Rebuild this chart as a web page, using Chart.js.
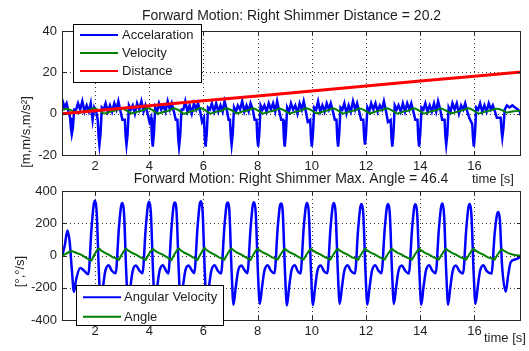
<!DOCTYPE html>
<html><head><meta charset="utf-8">
<script src="https://cdn.jsdelivr.net/npm/chart.js@4/dist/chart.umd.min.js"></script>
<style>
html,body{margin:0;padding:0;background:#fff;}
#wrap{position:relative;width:529px;height:351px;overflow:hidden;background:#fff;}
canvas{position:absolute;left:0;}
#c1{top:0;}
#c2{top:160px;}
</style></head><body>
<div id="wrap"><canvas id="c1" width="529" height="190" style="width:529px;height:190px"></canvas><canvas id="c2" width="529" height="191" style="width:529px;height:191px"></canvas></div>
<script>
// ---------- tick labels ----------
const xTicks = [2,4,6,8,10,12,14,16];
const yTicksTop = [-20,0,20,40];
const yTicksBottom = [-400,-200,0,200,400];

// ---------- top plot: acceleration ----------
const accTime = [
0.78,0.83,0.88,0.95,1.02,1.08,1.11,1.14,1.18,1.23,1.30,1.37,1.45,1.53,1.61,1.69,1.77,1.84,1.91,1.97,2.04,
2.10,2.13,2.16,2.20,2.25,2.32,2.39,2.47,2.55,2.63,2.71,2.79,2.86,2.94,3.01,
3.10,3.13,3.16,3.20,3.25,3.32,3.39,3.47,3.55,3.63,3.71,3.79,3.86,3.94,4.01,
4.07,4.10,4.13,4.17,4.22,4.29,4.36,4.44,4.52,4.60,4.68,4.76,4.83,4.91,4.98,
5.04,5.07,5.10,5.14,5.19,5.26,5.33,5.41,5.49,5.57,5.65,5.73,5.80,5.88,5.95,
6.02,6.05,6.08,6.12,6.17,6.24,6.31,6.39,6.47,6.55,6.63,6.71,6.78,6.86,6.93,
6.98,7.01,7.04,7.08,7.13,7.20,7.27,7.35,7.43,7.51,7.59,7.67,7.74,7.82,7.89,
7.96,7.99,8.02,8.06,8.11,8.18,8.25,8.33,8.41,8.49,8.57,8.65,8.72,8.80,8.87,
8.94,8.97,9.00,9.04,9.09,9.16,9.23,9.31,9.39,9.47,9.55,9.63,9.70,9.78,9.85,
9.94,9.97,10.00,10.04,10.09,10.16,10.23,10.31,10.39,10.47,10.55,10.63,10.70,10.78,10.85,
10.91,10.94,10.97,11.01,11.06,11.13,11.20,11.28,11.36,11.44,11.52,11.60,11.67,11.75,11.82,
11.90,11.93,11.96,12.00,12.05,12.12,12.19,12.27,12.35,12.43,12.51,12.59,12.66,12.74,12.81,
12.91,12.94,12.97,13.01,13.06,13.13,13.20,13.28,13.36,13.44,13.52,13.60,13.67,13.75,13.82,
13.90,13.93,13.96,14.00,14.05,14.12,14.19,14.27,14.35,14.43,14.51,14.59,14.66,14.74,14.81,
14.90,14.93,14.96,15.00,15.05,15.12,15.19,15.27,15.35,15.43,15.51,15.59,15.66,15.74,15.81,
15.92,15.95,15.98,16.02,16.07,16.14,16.21,16.29,16.37,16.45,16.53,16.61,16.68,16.76,16.83,
16.97,17.00,17.03,17.07,17.12,17.20,17.30,17.40,17.50,17.60,17.68,17.72];
const accValue = [
2,5,3,5,1,-2,-7,-10,-7,2,2,5,2,6,1,4,1,5,-3,3,1,
-3,-11,-15,-10,3,2,5,1,4,1,5,2,6,1,-3,
-3,-11,-15,-10,4,2,4,0,5,2,6,1,4,0,-4,
-2,-12,-16,-10,3,1,5,2,4,1,6,2,5,1,-3,
-3,-12,-16,-11,2,2,6,1,4,0,5,2,5,1,-4,
-2,-12,-16,-10,3,2,5,1,5,1,4,1,6,2,-3,
-3,-11,-15,-10,3,1,4,2,6,1,4,1,5,2,-3,
-3,-12,-16,-10,4,2,4,1,5,2,5,1,6,1,-3,
-3,-12,-16,-10,3,1,5,2,4,0,5,2,6,1,-4,
-3,-12,-16,-10,3,2,6,1,4,1,5,2,5,1,-3,
-3,-12,-16,-10,3,2,5,0,4,1,6,2,5,1,-3,
-3,-11,-15,-10,3,1,5,2,5,1,4,2,6,1,-4,
-3,-12,-16,-10,4,2,4,1,5,1,5,2,5,1,-3,
-3,-12,-16,-10,3,2,5,1,4,1,5,1,6,2,-3,
-3,-11,-15,-10,3,1,5,2,5,0,4,2,5,1,-2,
-5,-12,-16,-10,3,2,5,1,4,1,5,2,4,1,-2,
-2,-8,-11.5,-7,2,4,3,4,3,2,1,-1];

// ---------- top plot: velocity ----------
const velTime = [
0.78,0.94,1.16,1.32,1.56,1.76,
1.96,2.18,2.34,2.58,2.78,
2.96,3.18,3.34,3.58,3.78,
3.93,4.15,4.31,4.55,4.75,
4.90,5.12,5.28,5.52,5.72,
5.88,6.10,6.26,6.50,6.70,
6.84,7.06,7.22,7.46,7.66,
7.82,8.04,8.20,8.44,8.64,
8.80,9.02,9.18,9.42,9.62,
9.80,10.02,10.18,10.42,10.62,
10.77,10.99,11.15,11.39,11.59,
11.76,11.98,12.14,12.38,12.58,
12.77,12.99,13.15,13.39,13.59,
13.76,13.98,14.14,14.38,14.58,
14.76,14.98,15.14,15.38,15.58,
15.78,16.00,16.16,16.40,16.60,
16.83,17.05,17.21,17.45,17.72];
const velValue = [
1.7,2.4,1.3,0.2,1.0,1.6,
2.6,1.4,0.1,1.0,1.6,
2.5,1.4,0.2,1.0,1.7,
2.7,1.5,0.1,0.9,1.6,
2.6,1.4,0.0,1.0,1.7,
2.7,1.4,0.1,1.0,1.6,
2.6,1.5,0.2,1.1,1.7,
2.6,1.4,0.1,1.0,1.6,
2.5,1.3,0.1,1.0,1.6,
2.6,1.4,0.2,1.0,1.7,
2.6,1.4,0.1,1.0,1.6,
2.5,1.4,0.2,1.1,1.7,
2.6,1.4,0.1,1.0,1.6,
2.6,1.4,0.1,1.0,1.6,
2.5,1.3,0.2,1.0,1.7,
2.6,1.4,0.1,1.0,1.6,
2.4,1.5,0.6,1.2,1.4];

// ---------- top plot: distance ----------
const distTime = [0.78,2,4,6,8,10,12,14,16,17.72];
const distValue = [0.0,1.45,3.85,6.2,8.6,11.0,13.35,15.75,18.1,20.2];

// ---------- bottom plot: angular velocity ----------
const avTime = [
0.78,0.88,0.98,1.06,1.14,1.22,1.30,1.45,1.60,1.75,
1.87,1.95,2.00,2.06,2.14,2.21,2.29,2.38,2.50,2.62,
2.76,2.88,2.96,3.01,3.07,3.15,3.22,3.30,3.39,3.51,3.63,
3.75,3.87,3.95,4.00,4.06,4.14,4.21,4.29,4.38,4.50,4.62,
4.70,4.82,4.90,4.95,5.01,5.09,5.16,5.24,5.33,5.45,5.57,
5.66,5.78,5.86,5.91,5.97,6.05,6.12,6.20,6.29,6.41,6.53,
6.65,6.77,6.85,6.90,6.96,7.04,7.11,7.19,7.28,7.40,7.52,
7.62,7.74,7.82,7.87,7.93,8.01,8.08,8.16,8.25,8.37,8.49,
8.62,8.74,8.82,8.87,8.93,9.01,9.08,9.16,9.25,9.37,9.49,
9.58,9.70,9.78,9.83,9.89,9.97,10.04,10.12,10.21,10.33,10.45,
10.57,10.69,10.77,10.82,10.88,10.96,11.03,11.11,11.20,11.32,11.44,
11.59,11.71,11.79,11.84,11.90,11.98,12.05,12.13,12.22,12.34,12.46,
12.57,12.69,12.77,12.82,12.88,12.96,13.03,13.11,13.20,13.32,13.44,
13.58,13.70,13.78,13.83,13.89,13.97,14.04,14.12,14.21,14.33,14.45,
14.57,14.69,14.77,14.82,14.88,14.96,15.03,15.11,15.20,15.32,15.44,
15.58,15.70,15.78,15.83,15.89,15.97,16.04,16.12,16.21,16.33,16.45,
16.63,16.75,16.83,16.88,16.94,17.02,17.16,17.24,17.34,17.50,17.72];
const avValue = [
-5,60,155,90,-80,-225,-150,-77,-95,-117,
170,315,339,270,-100,-305,-200,-95,-60,-95,
-110,170,305,325,260,-100,-305,-200,-95,-62,-92,
-110,170,310,333,265,-100,-300,-200,-95,-60,-95,
-112,170,310,328,265,-100,-305,-200,-95,-62,-92,
-110,170,315,337,270,-100,-308,-200,-95,-60,-95,
-112,170,310,328,265,-100,-305,-200,-95,-62,-92,
-110,170,310,330,265,-100,-300,-200,-95,-60,-95,
-110,170,305,322,260,-100,-310,-200,-92,-60,-100,
-112,170,305,325,260,-100,-308,-200,-92,-62,-98,
-110,170,305,325,260,-100,-300,-200,-95,-60,-95,
-112,165,300,320,255,-100,-305,-200,-95,-60,-95,
-110,165,300,320,255,-100,-300,-200,-95,-62,-92,
-112,165,300,318,255,-100,-305,-200,-95,-60,-95,
-110,165,300,322,255,-100,-305,-200,-95,-62,-95,
-112,165,300,320,255,-100,-300,-200,-95,-60,-95,
-112,140,250,270,220,-60,-225,-130,-42,-25,-8];

// ---------- bottom plot: angle ----------
const angTime = [
0.78,0.90,1.02,1.14,1.30,1.50,1.70,1.87,
1.97,2.07,2.14,2.22,2.35,2.50,2.65,2.88,
2.98,3.08,3.15,3.23,3.36,3.51,3.66,3.87,
3.97,4.07,4.14,4.22,4.35,4.50,4.65,4.82,
4.92,5.02,5.09,5.17,5.30,5.45,5.60,5.78,
5.88,5.98,6.05,6.13,6.26,6.41,6.56,6.77,
6.87,6.97,7.04,7.12,7.25,7.40,7.55,7.74,
7.84,7.94,8.01,8.09,8.22,8.37,8.52,8.74,
8.84,8.94,9.01,9.09,9.22,9.37,9.52,9.70,
9.80,9.90,9.97,10.05,10.18,10.33,10.48,10.69,
10.79,10.89,10.96,11.04,11.17,11.32,11.47,11.71,
11.81,11.91,11.98,12.06,12.19,12.34,12.49,12.69,
12.79,12.89,12.96,13.04,13.17,13.32,13.47,13.70,
13.80,13.90,13.97,14.05,14.18,14.33,14.48,14.69,
14.79,14.89,14.96,15.04,15.17,15.32,15.47,15.70,
15.80,15.90,15.97,16.05,16.18,16.33,16.48,16.75,
16.85,16.95,17.02,17.10,17.25,17.40,17.55,17.72];
const angValue = [
-2,8,20,28,17,4,-18,-30,
5,32,44,32,18,5,-10,-26,
5,30,42,30,17,5,-10,-27,
5,30,40,29,16,5,-10,-28,
5,32,44,31,17,5,-10,-27,
5,33,46,32,18,5,-10,-26,
5,31,43,31,17,5,-10,-27,
5,31,42,30,17,5,-10,-25,
5,30,41,30,17,5,-10,-25,
5,30,41,30,17,5,-10,-25,
5,30,41,30,17,5,-10,-26,
5,30,41,30,16,5,-10,-25,
5,30,41,30,16,5,-10,-25,
5,30,41,30,16,5,-10,-25,
5,30,41,30,16,5,-10,-25,
5,30,41,30,16,5,-10,-25,
5,28,38,28,15,6,2,-2];

// ---------- text ----------
const topTitle = 'Forward Motion: Right Shimmer Distance = 20.2';
const bottomTitle = 'Forward Motion: Right Shimmer Max. Angle = 46.4';
const xLabel = 'time [s]';
const topYLabel = '[m,m/s,m/s²]';
const bottomYLabel = '[°,°/s]';

const FONT = '"Liberation Sans", Arial, Helvetica, sans-serif';
const TXT = '#1e1e1e';

function pts(t, v){ return t.map((x,i)=>({x:x, y:v[i]})); }

function matlabPlugin(cfg){
  return {
    id: 'matlab',
    beforeDatasetsDraw(chart){
      const ctx = chart.ctx, a = chart.chartArea, xs = chart.scales.x, ys = chart.scales.y;
      ctx.save();
      ctx.strokeStyle = '#3a3a3a'; ctx.lineWidth = 1; ctx.setLineDash([1,3]);
      ctx.beginPath();
      cfg.xTicks.forEach(v=>{ const p = Math.round(xs.getPixelForValue(v))+0.5; ctx.moveTo(p, a.top); ctx.lineTo(p, a.bottom); });
      cfg.yTicks.forEach(v=>{ const p = Math.round(ys.getPixelForValue(v))+0.5; if (p < a.top+2 || p > a.bottom-2) return; ctx.moveTo(a.left, p); ctx.lineTo(a.right, p); });
      ctx.stroke();
      ctx.restore();
    },
    afterDatasetsDraw(chart){
      const ctx = chart.ctx, a = chart.chartArea, xs = chart.scales.x, ys = chart.scales.y;
      ctx.save();
      ctx.setLineDash([]);
      ctx.strokeStyle = '#262626'; ctx.lineWidth = 1;
      ctx.beginPath();
      const tl = 4;
      cfg.xTicks.forEach(v=>{ const p = Math.round(xs.getPixelForValue(v))+0.5; ctx.moveTo(p, a.bottom); ctx.lineTo(p, a.bottom-tl); ctx.moveTo(p, a.top); ctx.lineTo(p, a.top+tl); });
      cfg.yTicks.forEach(v=>{ const p = Math.round(ys.getPixelForValue(v))+0.5; ctx.moveTo(a.left, p); ctx.lineTo(a.left+tl, p); ctx.moveTo(a.right, p); ctx.lineTo(a.right-tl, p); });
      ctx.stroke();
      ctx.strokeRect(Math.round(a.left)+0.5, Math.round(a.top)+0.5, Math.round(a.right-a.left)-1, Math.round(a.bottom-a.top));
      const L = cfg.legend;
      ctx.fillStyle = '#fff';
      ctx.fillRect(L.x, L.y, L.w, L.h);
      ctx.strokeStyle = '#000';
      ctx.strokeRect(L.x+0.5, L.y+0.5, L.w, L.h);
      ctx.font = '13px ' + FONT;
      ctx.textBaseline = 'middle'; ctx.textAlign = 'left';
      chart.data.datasets.forEach((ds,i)=>{
        const yy = L.row0 + i*L.gap;
        ctx.strokeStyle = ds.borderColor; ctx.lineWidth = 2;
        ctx.beginPath(); ctx.moveTo(L.l1, yy); ctx.lineTo(L.l2, yy); ctx.stroke();
        ctx.fillStyle = TXT; ctx.fillText(ds.label, L.tx, yy+0.5);
      });
      ctx.fillStyle = TXT;
      ctx.font = '14px ' + FONT; ctx.textAlign = 'center';
      ctx.fillText(cfg.title, cfg.titleX, cfg.titleY);
      ctx.font = '13px ' + FONT; ctx.textAlign = 'left';
      ctx.fillText(xLabel, cfg.xlX, cfg.xlY);
      ctx.save();
      ctx.translate(cfg.ylX, cfg.ylY); ctx.rotate(-Math.PI/2);
      ctx.textAlign = 'center';
      ctx.fillText(cfg.yLabel, 0, 0);
      ctx.restore();
      ctx.restore();
    }
  };
}

function scales(yMin, yMax, yTicks){
  return {
    x: { type:'linear', min:0.78, max:17.72,
      afterBuildTicks: s => { s.ticks = xTicks.map(v=>({value:v})); },
      afterFit: s => { s.height = 20; },
      grid:{display:false, drawTicks:false}, border:{display:false},
      ticks:{font:{family:FONT,size:13}, color:TXT, padding:4, maxRotation:0, autoSkip:false} },
    y: { type:'linear', min:yMin, max:yMax,
      afterBuildTicks: s => { s.ticks = yTicks.map(v=>({value:v})); },
      afterFit: s => { s.width = 62; },
      grid:{display:false, drawTicks:false}, border:{display:false},
      ticks:{font:{family:FONT,size:13}, color:TXT, padding:5, autoSkip:false} }
  };
}

const common = {
  responsive:false, animation:false, devicePixelRatio:1,
  plugins:{legend:{display:false}, tooltip:{enabled:false}, title:{display:false}},
  elements:{point:{radius:0}},
};

new Chart(document.getElementById('c1'), {
  type:'line',
  data:{ datasets:[
    {label:'Accelaration', data:pts(accTime,accValue), borderColor:'#0000ff', borderWidth:2.5, pointRadius:0, tension:0, order:3, clip:0},
    {label:'Velocity', data:pts(velTime,velValue), borderColor:'#008000', borderWidth:2, pointRadius:0, cubicInterpolationMode:'monotone', order:2, clip:0},
    {label:'Distance', data:pts(distTime,distValue), borderColor:'#ff0000', borderWidth:3, pointRadius:0, tension:0, order:1, clip:0}
  ]},
  options: Object.assign({}, common, {
    layout:{padding:{top:31,right:8,bottom:15,left:0}},
    scales: scales(-20,40,yTicksTop)
  }),
  plugins:[matlabPlugin({xTicks, yTicks:yTicksTop, title:topTitle, titleX:291.5, titleY:16,
    xlX:472, xlY:179, yLabel:topYLabel, ylX:26, ylY:132,
    legend:{x:73, y:24, w:128, h:58, row0:35, gap:18, l1:80, l2:118, tx:122}})]
});

new Chart(document.getElementById('c2'), {
  type:'line',
  data:{ datasets:[
    {label:'Angular Velocity', data:pts(avTime,avValue), borderColor:'#0000ff', borderWidth:2.5, pointRadius:0, cubicInterpolationMode:'monotone', order:2, clip:0},
    {label:'Angle', data:pts(angTime,angValue), borderColor:'#008000', borderWidth:2, pointRadius:0, tension:0, order:1, clip:0}
  ]},
  options: Object.assign({}, common, {
    layout:{padding:{top:31,right:8,bottom:11,left:0}},
    scales: scales(-400,400,yTicksBottom)
  }),
  plugins:[matlabPlugin({xTicks, yTicks:yTicksBottom, title:bottomTitle, titleX:291, titleY:19,
    xlX:484, xlY:178, yLabel:bottomYLabel, ylX:20, ylY:111.5,
    legend:{x:76, y:125, w:147, h:40, row0:137.3, gap:19.4, l1:83, l2:121, tx:124}})]
});
</script>
</body></html>
